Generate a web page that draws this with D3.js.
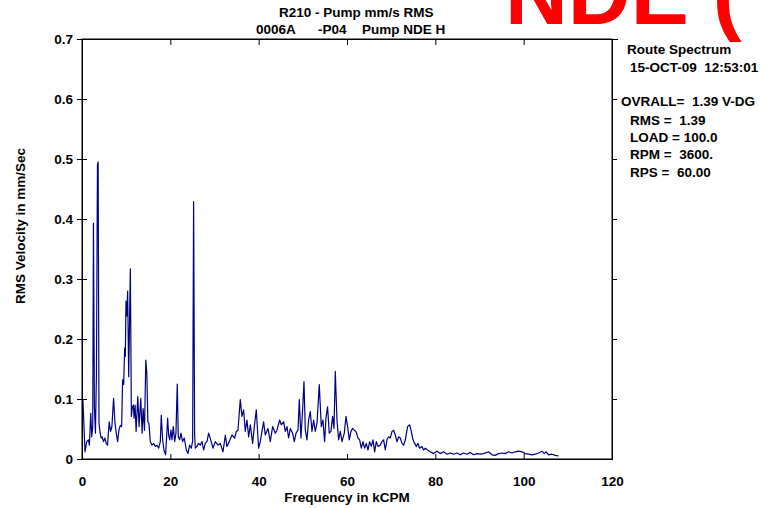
<!DOCTYPE html>
<html>
<head>
<meta charset="utf-8">
<script src="https://cdn.jsdelivr.net/npm/d3@7"></script>
<style>
  body { margin: 0; background: #fff; }
  svg text { font-family: "Liberation Sans", Arial, sans-serif; font-weight: bold; white-space: pre; }
</style>
</head>
<body>
<div id="chart"></div>
<script>
// spectrum: frequency (kCPM) and RMS velocity (mm/s)
const freq = [
  0.2, 0.68, 1.06, 1.45, 1.67, 1.98, 2.21, 2.43, 2.59, 2.81, 3.04, 3.27, 3.5, 3.65, 3.85,
  4.11, 4.33, 4.56, 4.87, 5.17, 5.48, 5.78, 6.16, 6.47, 6.77, 7.15, 7.45, 7.76, 8.06, 8.36,
  8.67, 8.97, 9.2, 9.43, 9.66, 9.81, 9.96, 10.12, 10.34, 10.57, 10.95, 11.18, 11.41, 11.64, 11.79,
  12.02, 12.25, 12.63, 12.93, 13.31, 13.61, 13.84, 14.15, 14.45, 14.68, 14.91, 15.16, 15.46, 15.85, 16.22,
  16.6, 16.98, 17.36, 17.73, 17.95, 18.26, 18.55, 18.93, 19.16, 19.39, 19.62, 19.85, 20.14, 20.37, 20.67,
  20.98, 21.27, 21.57, 21.8, 22.1, 22.41, 22.78, 23.16, 23.62, 24.0, 24.37, 24.75, 25.05, 25.27, 25.5,
  25.65, 26.03, 26.41, 26.78, 27.17, 27.54, 27.91, 28.3, 28.67, 29.27, 29.65, 30.18, 30.78, 31.31, 31.92,
  32.45, 32.82, 33.35, 33.95, 34.56, 34.94, 35.31, 35.84, 36.21, 36.59, 36.97, 37.35, 37.73, 38.11, 38.63,
  39.01, 39.46, 39.99, 40.37, 40.75, 41.12, 41.5, 42.1, 42.63, 43.16, 43.77, 44.14, 44.75, 45.12, 45.65,
  46.03, 46.41, 46.78, 47.17, 47.68, 48.07, 48.46, 48.91, 49.2, 49.57, 49.95, 50.26, 50.56, 50.94, 51.31,
  51.69, 52.07, 52.44, 52.82, 53.21, 53.72, 54.18, 54.55, 54.93, 55.23, 55.6, 55.98, 56.37, 56.74, 57.05,
  57.35, 57.73, 58.1, 58.48, 58.87, 59.39, 59.77, 60.14, 60.52, 60.9, 61.27, 61.65, 62.03, 62.49, 62.86,
  63.24, 63.62, 63.99, 64.37, 64.75, 65.12, 65.5, 65.88, 66.26, 66.63, 67.01, 67.54, 67.91, 68.29, 68.67,
  69.05, 69.43, 69.8, 70.19, 70.56, 70.93, 71.32, 71.69, 72.06, 72.45, 72.82, 73.2, 73.72, 74.18, 74.56,
  74.94, 75.31, 75.69, 76.07, 76.44, 76.97, 77.34, 77.73, 78.4, 78.85, 79.6, 80.37, 81.12, 81.87, 82.63,
  83.38, 84.13, 84.9, 85.65, 86.39, 87.16, 87.91, 88.66, 89.43, 90.17, 90.92, 92.05, 92.82, 93.57, 94.32,
  95.09, 95.83, 96.58, 97.35, 98.1, 98.85, 99.62, 100.36, 101.11, 101.88, 102.63, 103.37, 104.14, 104.66, 105.11,
  105.63, 106.41, 107.15, 107.9
];
const amp = [
  0.10, 0.012, 0.029, 0.032, 0.023, 0.076, 0.037, 0.054, 0.393, 0.087, 0.043, 0.143, 0.49, 0.495, 0.06,
  0.043, 0.035, 0.037, 0.029, 0.035, 0.026, 0.023, 0.062, 0.046, 0.054, 0.101, 0.062, 0.043, 0.029, 0.048,
  0.056, 0.054, 0.132, 0.124, 0.185, 0.171, 0.263, 0.238, 0.280, 0.137, 0.317, 0.071, 0.087, 0.090, 0.068,
  0.090, 0.046, 0.104, 0.054, 0.101, 0.043, 0.084, 0.048, 0.165, 0.143, 0.062, 0.059, 0.029, 0.023, 0.026,
  0.021, 0.023, 0.018, 0.029, 0.073, 0.032, 0.015, 0.007, 0.037, 0.068, 0.040, 0.032, 0.048, 0.032, 0.054,
  0.029, 0.043, 0.125, 0.037, 0.032, 0.043, 0.029, 0.035, 0.015, 0.009, 0.023, 0.018, 0.030, 0.429, 0.040,
  0.018, 0.021, 0.026, 0.023, 0.029, 0.015, 0.026, 0.029, 0.043, 0.029, 0.018, 0.029, 0.023, 0.026, 0.012,
  0.040, 0.021, 0.029, 0.040, 0.035, 0.046, 0.048, 0.099, 0.071, 0.082, 0.046, 0.065, 0.037, 0.057, 0.026,
  0.054, 0.082, 0.018, 0.029, 0.046, 0.062, 0.040, 0.051, 0.029, 0.054, 0.043, 0.048, 0.065, 0.057, 0.062,
  0.046, 0.054, 0.035, 0.051, 0.043, 0.029, 0.043, 0.048, 0.099, 0.035, 0.082, 0.129, 0.048, 0.032, 0.065,
  0.079, 0.046, 0.065, 0.046, 0.060, 0.124, 0.054, 0.065, 0.029, 0.068, 0.087, 0.043, 0.046, 0.071, 0.051,
  0.146, 0.065, 0.032, 0.046, 0.029, 0.043, 0.071, 0.054, 0.032, 0.046, 0.051, 0.048, 0.046, 0.035, 0.032,
  0.018, 0.029, 0.018, 0.026, 0.015, 0.029, 0.021, 0.032, 0.012, 0.029, 0.021, 0.023, 0.029, 0.032, 0.015,
  0.032, 0.037, 0.035, 0.046, 0.048, 0.040, 0.029, 0.037, 0.035, 0.026, 0.023, 0.032, 0.054, 0.057, 0.046,
  0.032, 0.026, 0.021, 0.026, 0.018, 0.021, 0.015, 0.018, 0.014, 0.012, 0.009, 0.013, 0.009, 0.012, 0.008,
  0.010, 0.008, 0.010, 0.007, 0.010, 0.008, 0.011, 0.007, 0.009, 0.008, 0.009, 0.012, 0.007, 0.006, 0.009,
  0.010, 0.009, 0.012, 0.010, 0.012, 0.013, 0.012, 0.009, 0.008, 0.007, 0.008, 0.010, 0.013, 0.009, 0.012,
  0.007, 0.008, 0.006, 0.005
];

const xTicks = [0, 20, 40, 60, 80, 100, 120];
const yTicks = [0, 0.1, 0.2, 0.3, 0.4, 0.5, 0.6, 0.7];
const titleLine1 = 'R210 - Pump mm/s RMS';
const titleLine2 = ['0006A', '-P04', 'Pump NDE H'];
const infoLines = [
  'Route Spectrum',
  '15-OCT-09  12:53:01',
  'OVRALL=  1.39 V-DG',
  'RMS =  1.39',
  'LOAD = 100.0',
  'RPM =  3600.',
  'RPS =  60.00'
];
const stamp = 'NDE (';
const xLabel = 'Frequency in kCPM';
const yLabel = 'RMS Velocity in mm/Sec';

const width = 767, height = 508;
const margin = { top: 39, right: 155, bottom: 49, left: 82 };
const plotW = width - margin.left - margin.right;
const plotH = height - margin.top - margin.bottom;
const fontSize = '13.5px';

const svg = d3.select('#chart')
  .append('svg')
  .attr('width', width)
  .attr('height', height);

svg.append('rect').attr('width', width).attr('height', height).attr('fill', '#fff');

const x = d3.scaleLinear().domain([0, 120]).range([0, plotW]);
const y = d3.scaleLinear().domain([0, 0.7]).range([plotH, 0]);

const g = svg.append('g')
  .attr('transform', `translate(${margin.left},${margin.top})`);

// spectrum trace
const line = d3.line()
  .x((d, i) => x(freq[i]))
  .y(d => y(d));

g.append('path')
  .datum(amp)
  .attr('fill', 'none')
  .attr('stroke', '#000080')
  .attr('stroke-width', 1.2)
  .attr('stroke-linejoin', 'round')
  .attr('d', line);

// frame
g.append('rect')
  .attr('width', plotW)
  .attr('height', plotH)
  .attr('fill', 'none')
  .attr('stroke', '#000')
  .attr('stroke-width', 1);

const yFmt = d => d === 0 ? '0' : d3.format('.1f')(d);

// left axis: ticks cross the line
g.append('g')
  .call(d3.axisLeft(y).tickValues(yTicks).tickSizeInner(5).tickSizeOuter(0).tickPadding(4).tickFormat(yFmt));
g.append('g')
  .call(d3.axisRight(y).tickValues(yTicks).tickSizeInner(5).tickSizeOuter(0).tickFormat(''));

// bottom axis, ticks pointing in
g.append('g')
  .attr('transform', `translate(0,${plotH})`)
  .call(d3.axisBottom(x).tickValues(xTicks).tickSizeInner(-5).tickSizeOuter(0).tickPadding(17).tickFormat(d3.format('d')));

// top and right axes, no labels
g.append('g')
  .call(d3.axisTop(x).tickValues([20, 40, 60, 80, 100]).tickSizeInner(-6).tickSizeOuter(0).tickFormat(''));
g.append('g')
  .attr('transform', `translate(${plotW},0)`)
  .call(d3.axisLeft(y).tickValues([0.1, 0.2, 0.3, 0.4, 0.5, 0.6]).tickSizeInner(-5).tickSizeOuter(0).tickFormat(''));
g.append('g')
  .attr('transform', `translate(${plotW},0)`)
  .call(d3.axisRight(y).tickValues([0.7]).tickSizeInner(6).tickSizeOuter(0).tickFormat(''));

g.selectAll('.domain').attr('stroke', '#000');
g.selectAll('.tick line').attr('stroke', '#000');
g.selectAll('.tick text')
  .attr('fill', '#000')
  .style('font-size', fontSize);

// labels
svg.append('text')
  .attr('x', 347)
  .attr('y', 502)
  .attr('text-anchor', 'middle')
  .style('font-size', fontSize)
  .text(xLabel);

svg.append('text')
  .attr('transform', 'translate(25,226) rotate(-90)')
  .attr('text-anchor', 'middle')
  .style('font-size', fontSize)
  .text(yLabel);

// titles
svg.append('text')
  .attr('x', 279)
  .attr('y', 16.5)
  .style('font-size', fontSize)
  .text(titleLine1);

const t2x = [256, 318, 362];
svg.selectAll('.title2')
  .data(titleLine2)
  .enter()
  .append('text')
  .attr('class', 'title2')
  .attr('x', (d, i) => t2x[i])
  .attr('y', 34)
  .style('font-size', fontSize)
  .text(d => d);

// info block on the right
const infoX = [627, 630, 621, 630, 630, 630, 630];
const infoY = [54, 71.5, 106, 124.5, 141.5, 158.5, 176.5];
svg.selectAll('.info')
  .data(infoLines)
  .enter()
  .append('text')
  .attr('class', 'info')
  .attr('x', (d, i) => infoX[i])
  .attr('y', (d, i) => infoY[i])
  .style('font-size', fontSize)
  .text(d => d);

// red stamp, cut off at the top edge as in the source image
svg.append('text')
  .attr('x', 505)
  .attr('y', 24)
  .attr('fill', '#ff0000')
  .style('font-size', '87px')
  .text(stamp);
</script>
</body>
</html>
